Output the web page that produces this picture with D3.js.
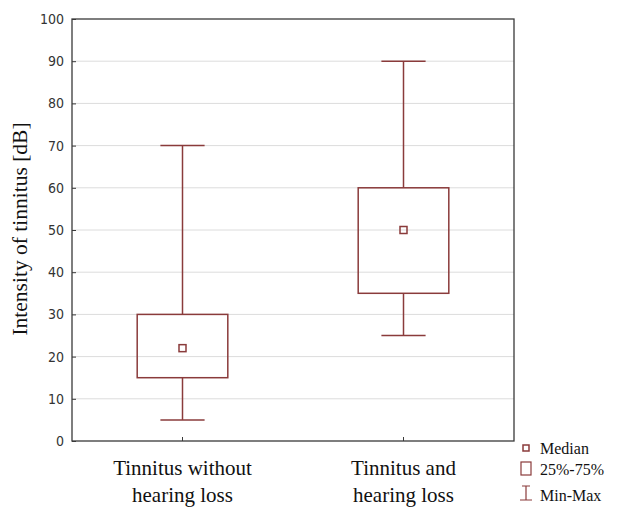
<!DOCTYPE html>
<html>
<head>
<meta charset="utf-8">
<script src="https://cdn.jsdelivr.net/npm/d3@7"></script>
<style>
  body { margin: 0; background: #fff; }
  svg { display: block; }
</style>
</head>
<body>
<svg></svg>
<script>
const width = 624;
const height = 507;
const margin = {top: 19, right: 110, bottom: 66, left: 72};

// data
const groups = ["Tinnitus without|hearing loss", "Tinnitus and|hearing loss"];
const mins = [5, 25];
const q1s = [15, 35];
const medians = [22, 50];
const q3s = [30, 60];
const maxs = [70, 90];
const yTicks = [0, 10, 20, 30, 40, 50, 60, 70, 80, 90, 100];

const boxColor = "#8a3b3b";
const frameColor = "#3a3a3a";
const serif = "'Liberation Serif', 'DejaVu Serif', serif";
const narrow = "'Liberation Sans Narrow', 'DejaVu Sans Condensed', sans-serif";

let svg = d3.select("svg")
    .attr("width", width)
    .attr("height", height);

const plotW = width - margin.left - margin.right;
const plotH = height - margin.top - margin.bottom;

let data = groups.map((g, i) => ({
    label: g, min: mins[i], q1: q1s[i], med: medians[i], q3: q3s[i], max: maxs[i]
}));

let scaleX = d3.scaleBand()
    .domain(groups)
    .range([0, plotW])
    .padding(0);

let scaleY = d3.scaleLinear()
    .domain([0, 100])
    .range([plotH, 0]);

let g = svg.append("g")
    .attr("transform", `translate(${margin.left}, ${margin.top})`);

// grid lines
g.selectAll(".grid")
    .data(yTicks.slice(1, -1))
    .enter()
    .append("line")
    .attr("x1", 0)
    .attr("x2", plotW)
    .attr("y1", d => scaleY(d))
    .attr("y2", d => scaleY(d))
    .style("stroke", "#dcdcdc")
    .style("stroke-width", 1);

// axes, ticks inward
let axisY = d3.axisLeft(scaleY).tickValues(yTicks).tickSize(-4).tickPadding(8);
let axisX = d3.axisBottom(scaleX).tickSize(-4).tickFormat("");

let gy = g.append("g").call(axisY);
gy.select(".domain").remove();
gy.selectAll("line").style("stroke", frameColor);
gy.selectAll("text")
    .style("font-family", narrow)
    .style("font-size", "14px")
    .style("fill", "#333");

let gx = g.append("g")
    .attr("transform", `translate(0, ${plotH})`)
    .call(axisX);
gx.select(".domain").remove();
gx.selectAll("line").style("stroke", frameColor);

// frame
g.append("rect")
    .attr("x", 0)
    .attr("y", 0)
    .attr("width", plotW)
    .attr("height", plotH)
    .style("fill", "none")
    .style("stroke", frameColor)
    .style("stroke-width", 1.3);

// x labels, two lines each
g.selectAll(".xlab")
    .data(data)
    .enter()
    .append("text")
    .attr("text-anchor", "middle")
    .style("font-family", serif)
    .style("font-size", "21px")
    .style("fill", "#111")
    .each(function(d) {
        let lines = d.label.split("|");
        let t = d3.select(this);
        lines.forEach((l, k) => {
            t.append("tspan")
                .attr("x", scaleX(d.label) + scaleX.bandwidth() / 2)
                .attr("y", plotH + 34 + k * 27)
                .text(l);
        });
    });

// y title
svg.append("text")
    .attr("transform", `translate(27, ${margin.top + 210}) rotate(-90)`)
    .attr("text-anchor", "middle")
    .style("font-family", serif)
    .style("font-size", "21.5px")
    .style("fill", "#111")
    .text("Intensity of tinnitus [dB]");

// boxes
const boxW = scaleX.bandwidth() * 0.41;
const capW = scaleX.bandwidth() * 0.2;
const medS = 7;

let boxes = g.selectAll(".box")
    .data(data)
    .enter()
    .append("g")
    .attr("transform", d => `translate(${scaleX(d.label) + scaleX.bandwidth() / 2}, 0)`)
    .style("stroke", boxColor)
    .style("stroke-width", 1.5)
    .style("fill", "none");

boxes.append("line")
    .attr("x1", 0).attr("x2", 0)
    .attr("y1", d => scaleY(d.max))
    .attr("y2", d => scaleY(d.q3));
boxes.append("line")
    .attr("x1", 0).attr("x2", 0)
    .attr("y1", d => scaleY(d.q1))
    .attr("y2", d => scaleY(d.min));
boxes.append("line")
    .attr("x1", -capW / 2).attr("x2", capW / 2)
    .attr("y1", d => scaleY(d.max))
    .attr("y2", d => scaleY(d.max));
boxes.append("line")
    .attr("x1", -capW / 2).attr("x2", capW / 2)
    .attr("y1", d => scaleY(d.min))
    .attr("y2", d => scaleY(d.min));
boxes.append("rect")
    .attr("x", -boxW / 2)
    .attr("width", boxW)
    .attr("y", d => scaleY(d.q3))
    .attr("height", d => scaleY(d.q1) - scaleY(d.q3));
boxes.append("rect")
    .attr("x", -medS / 2)
    .attr("width", medS)
    .attr("y", d => scaleY(d.med) - medS / 2)
    .attr("height", medS);

// legend
let leg = svg.append("g")
    .style("font-family", serif)
    .style("font-size", "16px")
    .style("fill", "#111");

let symX = 526;
leg.append("rect")
    .attr("x", symX - 3).attr("y", 445)
    .attr("width", 6).attr("height", 6)
    .style("fill", "none").style("stroke", boxColor).style("stroke-width", 1.5);
leg.append("rect")
    .attr("x", symX - 5).attr("y", 462)
    .attr("width", 10).attr("height", 13)
    .style("fill", "none").style("stroke", boxColor).style("stroke-width", 1.2);
leg.append("path")
    .attr("d", `M${symX - 4},486H${symX + 4}M${symX},486V500M${symX - 6},500H${symX + 6}`)
    .style("fill", "none").style("stroke", boxColor).style("stroke-width", 1.2);

const legendLabels = ["Median", "25%-75%", "Min-Max"];
const legendY = [454, 475, 501];
leg.selectAll(".ltxt")
    .data(legendLabels)
    .enter()
    .append("text")
    .attr("x", 540)
    .attr("y", (d, i) => legendY[i])
    .text(d => d);
</script>
</body>
</html>
